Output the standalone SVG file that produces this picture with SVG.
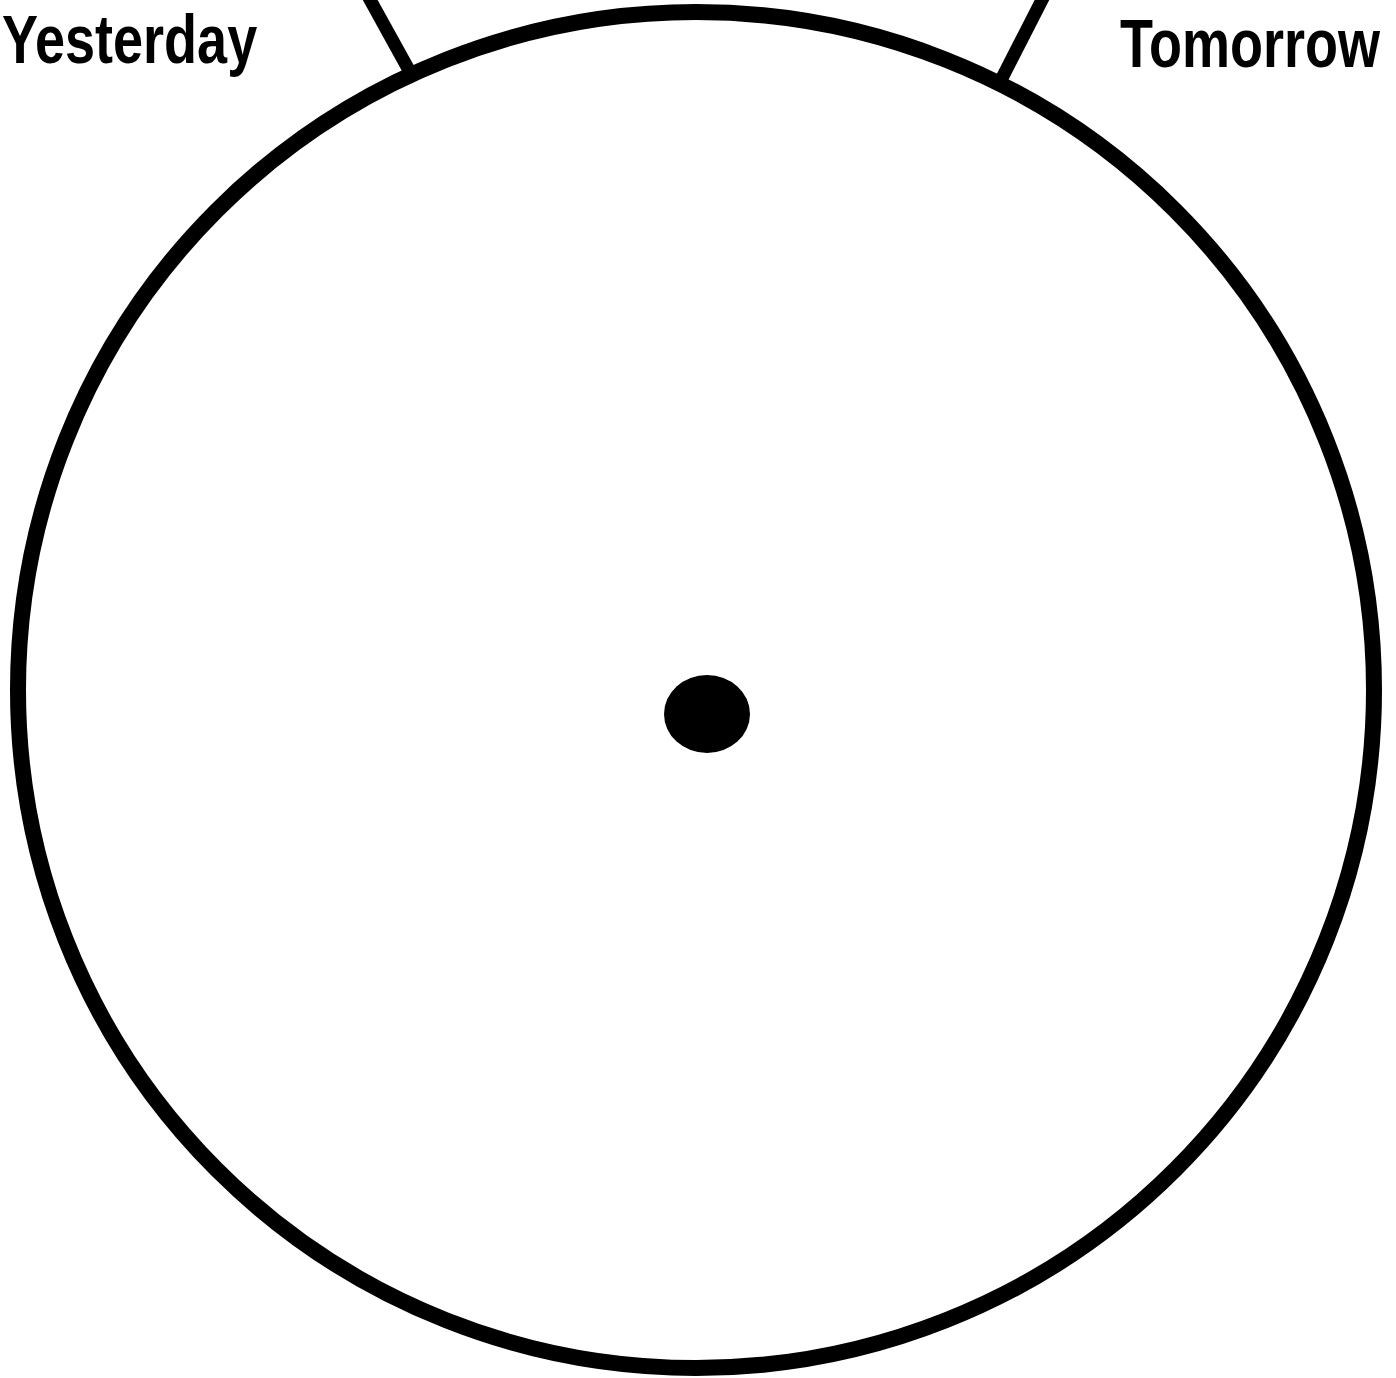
<svg xmlns="http://www.w3.org/2000/svg" width="1396" height="1378" viewBox="0 0 1396 1378">
<style>
.lbl{font-family:"Liberation Sans",Arial,sans-serif;font-weight:bold;font-size:54px;fill:#000}
.ln{stroke:#000;stroke-width:13;fill:none}
</style>
<rect width="1396" height="1378" fill="#fff"/>
<g id="connectors">
<line class="ln" x1="368" y1="-4" x2="410" y2="72"/>
<line class="ln" x1="1044" y1="-4" x2="1000" y2="82"/>
</g>
<g id="clock">
<circle cx="696" cy="690" r="678" fill="#fff" stroke="#000" stroke-width="16"/>
</g>
<g id="center">
<ellipse cx="707" cy="714" rx="43" ry="39" fill="#000"/>
</g>
<g id="yesterday">
<text class="lbl" transform="translate(2,63) scale(1,1.27)" x="0" y="0">Yesterday</text>
</g>
<g id="tomorrow">
<text class="lbl" transform="translate(1120,67) scale(1,1.27)" x="0" y="0">Tomorrow</text>
</g>
</svg>
